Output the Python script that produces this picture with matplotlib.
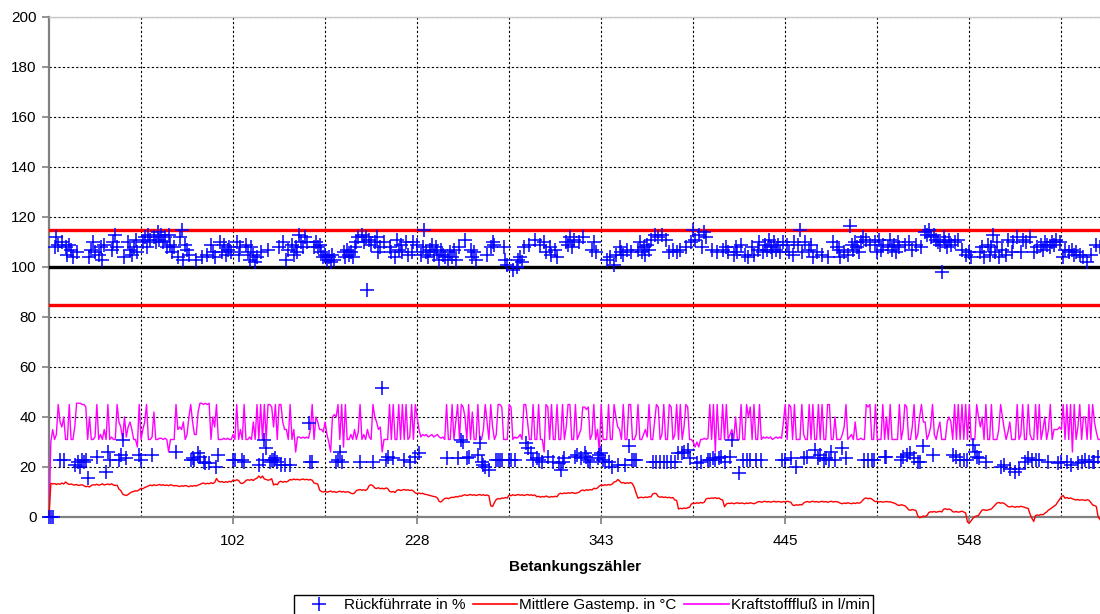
import numpy as np
import matplotlib
matplotlib.use("Agg")
import matplotlib.pyplot as plt
from matplotlib.lines import Line2D
from matplotlib.ticker import FixedLocator

plt.rcParams['font.family'] = ['Liberation Sans', 'DejaVu Sans']

# ---------------- data ----------------
tick_positions = [100, 200, 300, 400, 500]
tick_labels = ["102", "228", "343", "445", "548"]
y_ticks = list(range(0, 201, 20))
limit_upper = 115
limit_target = 100
limit_lower = 85

# Rückführrate in % (upper band readings per category)
rueck_upper = [
    None, None, 107, 108, 112, 109, 107, 110, 106, 108, 105, 109, 107, 104, 108, 106, 109, 105, 103, 106,
    108, 111, 104, 107, 110, 106, 113, 105, 108, 103, 109, 112, 106, 104, 107, 110, 113, 108, 105, 109,
    106, 104, 108, 110, 107, 105, 108, 111, 106, 109, 107, 110, 112, 108, 113, 111, 109, 112, 110, 114,
    111, 113, 110, 112, 108, 113, 109, 106, 108, 110, 104, 112, 115, 103, 109, 107, 105, 102, 108, 104,
    103, 107, 110, 104, 108, 111, 105, 103, 109, 106, 104, 108, 107, 110, 106, 109, 105, 107, 108, 106,
    109, 106, 110, 105, 108, 107, 104, 109, 106, 103, 108, 105, 102, 104, 101, 106, 103, 105, 112, 107,
    112, 109, 104, 107, 103, 108, 105, 110, 106, 103, 107, 104, 109, 105, 108, 106, 113, 110, 108, 112,
    110, 107, 109, 106, 108, 110, 108, 109, 106, 104, 105, 103, 104, 102, 105, 103, 106, 104, 107, 105,
    106, 104, 107, 105, 106, 104, 108, 110, 112, 111, 113, 110, 112, 91, 111, 109, 107, 110, 112, 106,
    108, 105, 110, 107, 112, 108, 106, 109, 104, 111, 107, 109, 106, 108, 110, 105, 108, 106, 110, 104,
    109, 107, 105, 108, 115, 106, 104, 107, 109, 105, 108, 106, 103, 107, 105, 104, 108, 103, 106, 104,
    107, 103, 105, 108, 104, 106, 111, 110, 111, 107, 104, 106, 103, 105, 107, 104, 106, 103, 105, 104,
    108, 110, 109, 108, 110, 107, 109, 108, 103, 101, 102, 100, 99, 101, 100, 103, 104, 102, 108, 111,
    113, 109, 112, 108, 111, 110, 113, 109, 112, 110, 106, 104, 108, 105, 110, 107, 104, 109, 111, 108,
    114, 110, 109, 112, 108, 111, 113, 109, 110, 107, 112, 106, 109, 108, 111, 107, 110, 106, 112, 108,
    109, 107, 105, 103, 106, 104, 107, 101, 105, 103, 108, 106, 105, 109, 107, 110, 106, 108, 105, 109,
    107, 110, 106, 108, 105, 109, 107, 111, 109, 113, 110, 112, 114, 113, 109, 111, 108, 106, 110, 107,
    109, 106, 108, 107, 110, 106, 108, 109, 112, 110, 115, 111, 109, 113, 110, 108, 114, 112, 109, 111,
    107, 110, 108, 106, 111, 109, 107, 110, 108, 106, 109, 107, 105, 108, 106, 104, 109, 107, 105, 108,
    104, 106, 108, 105, 109, 107, 110, 108, 106, 109, 107, 111, 108, 106, 110, 107, 109, 106, 108, 110,
    107, 109, 106, 108, 105, 110, 107, 109, 115, 106, 108, 110, 105, 107, 109, 104, 108, 106, 110, 107,
    105, 109, 107, 104, 108, 106, 110, 105, 108, 107, 104, 109, 106, 108, 105, 116.5, 109, 107, 110, 108,
    106, 110, 112, 108, 111, 107, 109, 112, 108, 110, 106, 111, 107, 109, 106, 110, 108, 111, 107, 109,
    106, 110, 108, 111, 107, 109, 106, 110, 108, 107, 111, 109, 106, 110, 108, 112, 114, 113, 115, 112,
    116, 113, 111, 110, 109, 98, 112, 110, 108, 111, 109, 112, 110, 108, 111, 109, 107, 110, 105, 108,
    106, 104, 109, 107, 105, 110, 106, 108, 104, 107, 109, 105, 108, 113, 106, 110, 104, 112, 107, 109,
    105, 111, 108, 106, 110, 107, 112, 109, 106, 111, 108, 110, 107, 112, 109, 106, 110, 108, 111, 109,
    107, 110, 109, 111, 108, 110, 109, 111, 108, 110, 106, 104, 107, 105, 106, 104, 107, 105, 106, 104,
    105, 107, 104, 106, 102, 108, 105, 110, 103, 109, 106, 108,
]

# Rückführrate in % (lower band readings): (category index, value)
rueck_lower = [
    (0, 0), (1, 0), (2, 0), (6, 22.8), (8, 22.8), (14, 20.8), (16, 22), (17, 20), (18, 22.8), (19, 22),
    (20, 22.8), (21, 15.5), (26, 24), (31, 18), (32, 26), (33, 22.8), (38, 22.8), (39, 24.8), (40, 30.8),
    (42, 23.5), (49, 24.8), (50, 22.8), (56, 24.8), (69, 26), (77, 22.8), (78, 23.5), (79, 22.8), (81, 25.5),
    (82, 24), (84, 22), (85, 21.5), (87, 21.5), (91, 20), (92, 24.8), (100, 22.8), (101, 22.8), (105, 22.8),
    (106, 22), (114, 20.8), (116, 22.8), (117, 30.8), (118, 27.5), (120, 22), (121, 22.8), (122, 22.8),
    (123, 23.5), (124, 22), (126, 20.8), (128, 20.8), (131, 20.8), (141, 37.5), (142, 22), (143, 22),
    (156, 22), (157, 22.8), (158, 26), (159, 22), (169, 22), (176, 22), (181, 51.5), (183, 22.8), (184, 24),
    (187, 23.5), (193, 22.8), (196, 22), (199, 24), (201, 25.5), (216, 23.5), (222, 23.5), (224, 30.8),
    (225, 30), (227, 23.5), (228, 24), (233, 24.8), (234, 29.5), (235, 22), (236, 20.8), (237, 20),
    (239, 18.8), (243, 22.8), (244, 22.8), (245, 22.8), (246, 22.8), (250, 22.8), (251, 22.8), (253, 22.8),
    (259, 29.5), (260, 27.5), (262, 25.5), (263, 22.8), (265, 23.5), (266, 22.8), (268, 22), (271, 24),
    (274, 22), (277, 21.5), (278, 18.8), (279, 22), (280, 23.5), (286, 24), (287, 24.8), (289, 23.5),
    (291, 25.5), (292, 24), (293, 22.8), (294, 22), (298, 23.5), (299, 24.8), (300, 25.5), (301, 22.8),
    (302, 22), (304, 22), (306, 20), (309, 20.8), (313, 20.8), (315, 28.6), (317, 22.8), (318, 22.8),
    (319, 22.8), (328, 22), (330, 22), (332, 22), (334, 22), (336, 22), (338, 22), (340, 22), (342, 25.5),
    (344, 25.5), (345, 26), (347, 26.8), (348, 23.5), (352, 21.5), (354, 22), (358, 22.8), (359, 22.8),
    (361, 23.5), (362, 22.8), (364, 23.5), (365, 24), (367, 22), (370, 24), (371, 31), (375, 17.5),
    (377, 22.8), (379, 22.8), (381, 22.8), (384, 22.8), (387, 22.8), (398, 22.8), (400, 22.8), (403, 23.5),
    (406, 20), (410, 23.5), (412, 24), (416, 27), (418, 23.5), (419, 24.8), (421, 22.8), (422, 23.5),
    (424, 22.8), (425, 26), (427, 22.8), (431, 27.5), (433, 23.5), (443, 22.8), (445, 22.8), (447, 22.8),
    (448, 22.8), (454, 24), (455, 24), (463, 22.8), (464, 24), (466, 24.8), (468, 25.5), (470, 23.5),
    (472, 22), (473, 22), (475, 28.6), (480, 24.8), (491, 24.8), (493, 24), (495, 22.8), (497, 22.8),
    (499, 22.8), (502, 29), (503, 26), (504, 24), (505, 23.5), (509, 22), (517, 20), (519, 20.8),
    (522, 19.3), (525, 18), (527, 19.3), (530, 22), (532, 23.5), (534, 22.8), (536, 22.8), (538, 22.8),
    (543, 22), (548, 21.5), (550, 22), (553, 22), (555, 20.8), (559, 21.5), (561, 22), (563, 22.8),
    (565, 22), (567, 22), (568, 22), (570, 24),
]

# Mittlere Gastemp. in °C
gastemp = [
    0, 13.5, 13.2, 13.4, 13.0, 13.3, 13.1, 13.6, 13.2, 14.0, 13.4, 13.0, 13.2, 12.9, 12.8, 13.0, 12.6, 12.8, 12.9, 12.5,
    12.1, 12.3, 12.0, 12.6, 12.9, 12.8, 13.1, 12.7, 12.9, 13.3, 12.8, 13.0, 13.2, 12.9, 13.3, 12.8, 12.6, 12.7, 11.2, 10.6,
    9.2, 8.8, 8.6, 9.0, 9.6, 10.0, 10.2, 10.5, 10.4, 10.9, 11.5, 11.3, 11.8, 12.1, 12.4, 12.8, 12.5, 12.9, 12.6, 12.8,
    13.0, 12.7, 12.9, 12.6, 12.8, 12.5, 12.9, 12.7, 12.4, 12.6, 12.4, 12.2, 12.5, 12.3, 12.6, 12.4, 12.1, 12.5, 12.3, 12.6,
    12.4, 12.8, 13.0, 13.4, 13.6, 13.2, 13.5, 13.3, 13.7, 13.4, 13.8, 15.4, 14.3, 14.0, 14.2, 13.8, 14.1, 13.9, 14.3, 14.0,
    14.8, 14.5, 14.9, 14.6, 13.6, 13.4, 13.8, 14.6, 14.9, 14.7, 15.0, 14.6, 15.2, 15.5, 16.4, 15.6, 16.4, 15.2, 15.0, 14.7,
    14.9, 15.3, 12.8, 13.2, 12.9, 14.0, 14.3, 13.9, 14.2, 14.0, 14.4, 15.0, 14.8, 15.2, 14.9, 15.1, 14.8, 15.0, 15.2, 14.9,
    15.1, 14.8, 15.0, 14.7, 13.6, 13.4, 13.2, 10.8, 10.2, 10.0, 10.3, 9.9, 10.1, 10.4, 10.0, 10.2, 9.8, 10.1, 10.3, 10.0,
    10.2, 9.9, 10.1, 10.0, 9.5, 9.3, 9.6, 10.6, 10.8, 11.0, 10.7, 10.9, 10.6, 11.2, 12.6, 12.9, 12.5, 11.6, 11.4, 11.7,
    11.3, 11.5, 11.2, 11.6, 11.4, 10.3, 10.0, 10.2, 9.8, 10.7, 10.9, 10.6, 10.8, 11.0, 10.7, 10.9, 10.6, 10.8, 10.4, 9.6,
    9.4, 9.6, 9.3, 9.5, 9.1, 9.0, 8.8, 8.6, 8.4, 8.2, 8.1, 7.6, 6.2, 6.0, 6.8, 7.4, 7.6, 7.3, 7.7, 7.9,
    7.8, 8.2, 8.0, 8.4, 8.3, 8.7, 8.9, 8.6, 8.8, 9.0, 8.7, 8.9, 8.6, 8.8, 9.0, 8.7, 8.9, 8.6, 8.8, 8.5,
    4.5, 4.2, 5.8, 7.0, 7.4, 7.2, 7.6, 7.5, 7.8, 7.6, 8.8, 8.5, 8.9, 8.6, 8.8, 9.0, 8.7, 8.9, 8.6, 8.8,
    9.0, 8.7, 8.9, 8.6, 8.8, 8.1, 8.3, 7.9, 8.2, 8.0, 8.4, 8.1, 7.9, 8.2, 8.0, 8.3, 8.1, 9.2, 9.5, 9.3,
    9.6, 9.4, 9.7, 9.5, 9.8, 9.6, 9.4, 9.7, 9.9, 10.6, 10.8, 10.5, 10.9, 10.7, 11.0, 10.8, 11.5, 11.3, 11.6, 12.4,
    12.8, 12.6, 12.9, 12.7, 13.0, 12.8, 13.2, 14.0, 14.2, 15.0, 14.4, 13.6, 13.8, 13.4, 13.7, 13.5, 13.8, 13.3, 11.8, 9.5,
    7.5, 7.8, 7.9, 7.7, 8.0, 7.8, 8.1, 8.0, 9.2, 9.5, 9.3, 8.2, 7.9, 8.1, 7.8, 8.0, 7.7, 7.9, 7.6, 7.8,
    6.8, 6.6, 3.2, 3.5, 3.3, 3.6, 3.4, 3.7, 3.9, 5.2, 5.5, 5.4, 5.7, 5.5, 5.8, 5.6, 5.9, 7.2, 7.5, 7.4,
    7.6, 7.5, 7.7, 7.4, 7.6, 7.0, 6.8, 4.1, 5.2, 5.5, 5.4, 5.6, 5.3, 5.5, 5.7, 5.4, 5.6, 5.5, 5.3, 5.6,
    5.4, 5.7, 5.5, 5.3, 5.6, 6.0, 6.2, 5.9, 6.1, 6.3, 6.0, 6.2, 5.9, 6.1, 6.3, 6.0, 6.2, 6.1, 5.9, 6.2,
    6.0, 6.3, 6.1, 5.9, 4.8, 4.6, 4.9, 4.7, 5.0, 4.8, 5.6, 6.0, 6.2, 5.9, 6.1, 6.3, 6.0, 6.2, 5.9, 6.1,
    6.3, 6.0, 6.2, 5.9, 6.1, 6.3, 6.0, 6.2, 6.1, 5.9, 5.5, 5.3, 5.6, 5.4, 5.7, 5.5, 5.3, 5.6, 5.4, 5.7,
    5.5, 5.8, 6.6, 7.4, 7.6, 7.3, 7.5, 7.2, 6.6, 6.1, 6.3, 6.0, 6.2, 5.9, 6.1, 6.2, 6.0, 6.1, 5.8, 5.6,
    5.3, 4.8, 4.6, 4.9, 4.7, 4.5, 3.8, 2.9, 2.7, 3.0, 2.8, 2.6, 0.5, -0.3, 0.0, 0.4, 0.2, 0.6, 1.8, 2.1,
    2.0, 2.2, 1.9, 2.1, 2.3, 2.0, 3.1, 3.3, 3.0, 3.2, 2.9, 2.1, 2.0, 2.2, 1.9, 2.1, 2.3, 2.0, 1.6, -2.0,
    -2.4, -1.5, -0.5, 0.2, 0.4, 0.6, 1.8, 2.8, 2.9, 2.6, 2.8, 3.0, 3.2, 4.0, 4.8, 5.6, 5.8, 5.5, 5.7, 5.4,
    4.8, 4.2, 4.0, 4.3, 4.1, 3.9, 4.2, 4.0, 4.3, 4.1, 3.9, 3.6, 3.4, 1.2, -0.5, -1.8, 0.6, 0.8, 0.7, 1.0,
    0.9, 1.5, 2.0, 2.8, 3.2, 3.8, 4.3, 4.8, 6.0, 7.0, 8.1, 8.6, 7.5, 7.8, 7.4, 7.6, 7.3, 7.0, 6.8, 7.0,
    6.7, 6.9, 6.8, 6.6, 6.9, 6.7, 5.8, 4.8, 4.6, 4.2, 0.0, -1.0,
]

# Kraftstofffluß in l/min
kraftstoff = [
    0, 30, 35, 31, 33, 45, 38, 36, 40, 31, 31, 45, 31, 31, 36, 45.5, 45.5, 45.5, 45, 45,
    44, 31, 40, 31, 31, 32, 45, 31, 33, 31, 35, 31, 45, 31, 32, 31, 31, 45, 38, 36,
    31, 40, 32, 36, 38, 35, 31, 31, 28, 45, 31, 35, 38, 45, 31, 31, 32, 42, 31, 31,
    31.5, 31.5, 31, 31.5, 31, 26, 31, 31, 31, 45, 35, 36, 35, 38, 31, 33, 40, 45, 38, 33,
    33, 42, 45.5, 45.5, 45, 45.5, 45, 45.5, 31, 40, 36, 45, 31, 31, 31, 31.5, 31, 31.5, 31, 31,
    33, 31, 45, 31, 35, 31, 45, 31, 31, 32, 31, 38, 31, 45, 31, 45, 31, 45, 31, 45,
    45, 44, 36, 45, 31, 45, 45, 38, 35, 35, 31, 45, 31, 35, 26, 32, 32, 31.5, 32, 31.5,
    32, 31.5, 35, 45, 31, 40, 38, 35, 35, 34, 38, 33, 30, 26, 40, 41, 40, 45, 31, 45,
    28, 45, 31, 31, 33, 31, 35, 31, 34, 45, 31, 33, 31, 35, 32, 31, 45, 40, 38, 35,
    36, 26, 31, 31, 31, 45, 31, 45, 31, 31, 45, 31, 45, 31, 45, 31, 32, 45, 31, 45,
    40, 35, 32, 33, 32.5, 33, 32, 32.5, 33, 32, 32.5, 33, 32, 31.5, 32, 31, 45, 31, 31, 45,
    31, 38, 45, 31, 45, 44, 40, 31, 45, 31, 42, 31, 31, 45, 31, 31, 35, 45, 38, 31,
    45, 36, 31, 33, 45, 45, 44, 31, 31, 31, 45, 44, 31, 32, 31.5, 32, 33, 31, 45, 45,
    38, 31, 31, 45, 31, 31, 45, 31, 31, 26, 45, 44, 31, 45, 31, 31, 45, 31, 31, 45,
    31, 36, 45, 45, 31, 31, 45, 31, 33, 35, 44, 44, 43, 44, 31, 33, 45, 31, 35, 26,
    45, 31, 31, 31, 45, 31, 31, 45, 40, 36, 35, 31, 45, 31, 31, 45, 45, 31, 31, 33,
    45, 31, 31, 33, 35, 32, 45, 31, 31, 38, 45, 44, 31, 33, 45, 31, 31, 45, 44, 31,
    33, 45, 31, 45, 31, 36, 45, 44, 31, 31, 30, 28, 30, 28, 31, 31, 31.5, 31, 31.5, 45,
    31, 45, 26, 45, 31, 31, 45, 31, 45, 31, 33, 35, 31, 40, 31, 31, 45, 31, 31, 45,
    40, 44, 31, 45, 31, 31, 45, 31, 32, 31.5, 32, 31.5, 32, 31, 31.5, 32, 31.5, 32, 31.5, 38,
    45, 31, 45, 44, 31, 45, 31, 31, 31, 45, 33, 31, 31, 45, 31, 45, 31, 31, 45, 31,
    45, 31, 31, 45, 45, 31, 31, 40, 31, 31, 31, 33, 36, 45, 31, 32, 33, 31, 38, 31,
    31, 31.5, 31, 31, 45, 44, 45, 31, 31, 45, 31, 31, 31, 45, 31, 40, 31, 45, 31, 31,
    31, 31, 45, 31, 35, 45, 44, 31, 31, 36, 45, 31, 33, 40, 45, 38, 38, 31, 33, 36,
    45, 33, 31, 35, 38, 31, 31, 31, 38, 40, 38, 31, 45, 31, 45, 31, 45, 31, 45, 31,
    45, 31, 31, 31, 45, 40, 36, 40, 31, 45, 31, 31, 45, 31, 31, 31, 35, 45, 40, 35,
    31, 34, 38, 31, 31, 31, 45, 31, 33, 45, 31, 31, 45, 33, 31, 31, 45, 31, 45, 31,
    35, 40, 31, 35, 45, 31, 35, 35, 35, 36, 35, 45, 31, 45, 31, 45, 26, 45, 31, 36,
    45, 31, 40, 40, 31, 45, 31, 45, 38, 34, 31, 31,
]

# ---------------- plotting ----------------
fig = plt.figure(figsize=(11.0, 6.14), dpi=100)
ax = fig.add_axes([49 / 1100, 1 - 517 / 614, 1 - 49 / 1100, (517 - 17) / 614])

low_idx = np.array([p[0] for p in rueck_lower], dtype=int)
low_val = np.array([p[1] for p in rueck_lower], dtype=float)
up = np.array(rueck_upper, dtype=float)
# one Rückführrate reading per category: categories read in the lower band carry no upper value
up[low_idx[low_idx < len(up)]] = np.nan
x_up = np.arange(len(up))
gt = np.array(gastemp, dtype=float)
kf = np.array(kraftstoff, dtype=float)

n_cat = max(len(up), len(gt), len(kf))

# reference limits
ax.axhline(limit_upper, color='#ff0000', lw=2.4, zorder=3)
ax.axhline(limit_target, color='#000000', lw=2.4, zorder=3)
ax.axhline(limit_lower, color='#ff0000', lw=2.4, zorder=3)

ax.plot(np.arange(len(kf)), kf, color='#ff00ff', lw=1.0, zorder=4)
ax.plot(np.arange(len(gt)), gt, color='#ff0000', lw=1.0, zorder=4, clip_on=False)
mk = dict(ls='none', marker='+', ms=9.5, mew=1.1, color='#0000ff', zorder=5, clip_on=False)
ax.plot(x_up, up, **mk)
ax.plot(low_idx, low_val, **mk)

ax.set_xlim(0, n_cat - 1)
ax.set_ylim(0, 200)
ax.set_yticks(y_ticks)
ax.set_xticks(tick_positions)
ax.set_xticklabels(tick_labels)
ax.xaxis.set_minor_locator(FixedLocator([p for p in range(50, n_cat, 50) if p not in tick_positions]))

ax.grid(True, which='both', axis='x', color='black', ls=(0, (2, 2)), lw=0.8)
ax.grid(True, which='major', axis='y', color='black', ls=(0, (2, 2)), lw=0.8)
ax.set_axisbelow(True)

ax.tick_params(axis='both', which='major', labelsize=11, labelcolor='#000000',
               color='#808080', length=5, width=1.2)
ax.tick_params(axis='x', which='minor', length=0)
ax.tick_params(axis='x', pad=7)
ax.tick_params(axis='y', pad=4)

ax.spines['right'].set_visible(False)
ax.spines['top'].set_color('#c8c8c8')
ax.spines['top'].set_linewidth(1.0)
for s in ['left', 'bottom']:
    ax.spines[s].set_color('#808080')
    ax.spines[s].set_linewidth(1.6)

ax.set_xlabel('Betankungszähler', fontsize=11, fontweight='bold', labelpad=9)

handles = [
    Line2D([], [], ls='none', marker='+', ms=9.5, mew=1.1, color='#0000ff'),
    Line2D([], [], color='#ff0000', lw=1.2),
    Line2D([], [], color='#ff00ff', lw=1.2),
]
labels = ['Rückführrate in %', 'Mittlere Gastemp. in °C', 'Kraftstofffluß in l/min']
leg = fig.legend(handles, labels, loc='upper center', bbox_to_anchor=(0.5305, 0.031),
                 ncol=3, fontsize=11, frameon=True, fancybox=False, edgecolor='black',
                 framealpha=1, borderaxespad=0, handlelength=2.9, handletextpad=0.15,
                 columnspacing=0.5, borderpad=0.2)
leg.get_frame().set_linewidth(1.0)

fig.savefig('out.png', dpi=100)
